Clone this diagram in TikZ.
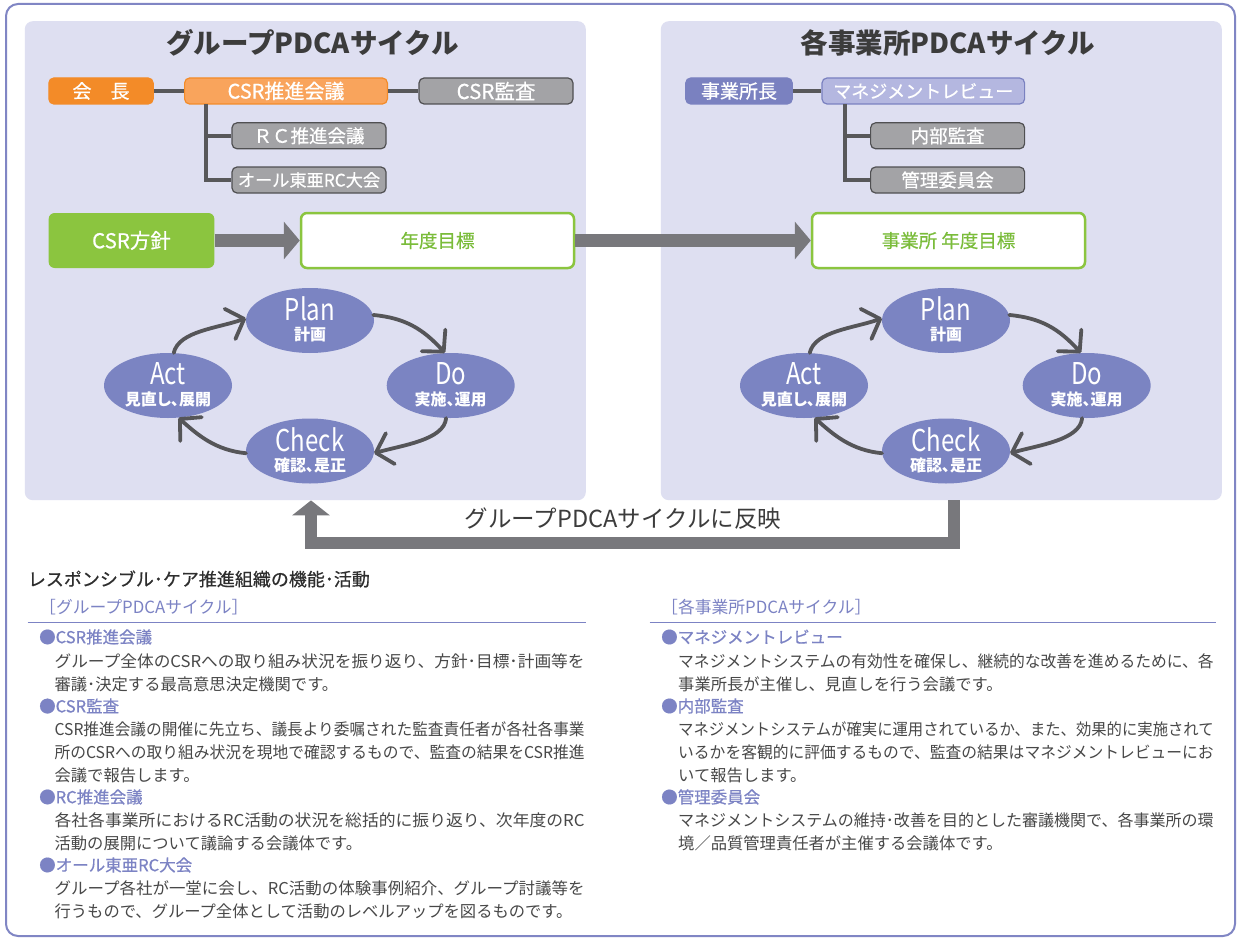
\documentclass[tikz,border=0pt]{standalone}
\usepackage{graphicx}
\usepackage{fontspec}
\setmainfont{Noto Sans CJK JP}
\newfontfamily\medf[FakeBold=0.6]{Noto Sans CJK JP}
\newfontfamily\palf[RawFeature=+palt]{Noto Sans CJK JP}
\usetikzlibrary{shapes.geometric,arrows.meta,calc}
\definecolor{framec}{RGB}{128,134,196}
\definecolor{panelc}{RGB}{222,223,241}
\definecolor{orangeA}{RGB}{243,139,40}
\definecolor{orangeB}{RGB}{249,164,92}
\definecolor{grayfill}{RGB}{163,163,166}
\definecolor{grayborder}{RGB}{80,80,82}
\definecolor{orgc}{RGB}{88,88,90}
\definecolor{greenc}{RGB}{139,197,63}
\definecolor{greent}{RGB}{122,188,58}
\definecolor{arrowc}{RGB}{120,120,124}
\definecolor{ellc}{RGB}{123,132,194}
\definecolor{cycc}{RGB}{85,85,88}
\definecolor{purA}{RGB}{122,129,192}
\definecolor{purB}{RGB}{180,183,224}
\definecolor{titlec}{RGB}{60,60,60}
\definecolor{bodyc}{RGB}{72,72,72}
\definecolor{headc}{RGB}{124,131,196}
\newcommand\pdcanode[5]{%
  \node[ell] (#1) at (#2,#3) {};
  \node[bigt] (#1a) at (#2,#3-11.5) {\scalebox{0.8}[1]{#4}};
  \node[smt] (#1b) at (#2,#3+14) {#5};}
\newcommand\pdcacycle[2]{%
  \pdcanode{#1p}{310+#2}{320.5}{Plan}{計画}
  \pdcanode{#1d}{450.7+#2}{385.5}{Do}{実施、運用}
  \pdcanode{#1a}{168+#2}{385.5}{Act}{見直し、展開}
  \pdcanode{#1c}{310+#2}{451}{Check}{確認、是正}
  \draw[cyc] (#1p.5) .. controls +(32,3) and +(-22,-24) .. (#1d.100);
  \draw[cyc] (#1d.262) .. controls +(-2,22) and +(28,-8) .. (#1c.-2);
  \draw[cyc] (#1c.182) .. controls +(-30,-3) and +(20,18) .. (#1a.-72);
  \draw[cyc] (#1a.80) .. controls +(5,-22) and +(-28,10) .. (#1p.178);}
\newcommand\bodyline[4]{\node[bodyt] (#1) at (#2,#3) {#4};}
\newcommand\fitline[5]{\node[bodyt] (#1) at (#2,#3) {\resizebox{#4}{\height}{#5}};}
\newcommand\headline[4]{\node[headt] (#1) at (#2,#3) {#4};}
\begin{document}
\begin{tikzpicture}[x=1pt,y=-1pt,
  panel/.style={fill=panelc, rounded corners=8pt, inner sep=0, minimum width=561pt, minimum height=479pt, anchor=north west},
  box/.style={rectangle, rounded corners=5pt, inner sep=0, minimum height=26pt, line width=1.2pt, text=white, font=\fontsize{19}{19}\medf},
  graybox/.style={box, fill=grayfill, draw=grayborder, font=\fontsize{18.5}{18.5}\medf},
  goalbox/.style={rectangle, rounded corners=6pt, inner sep=0, minimum height=55pt, line width=2.5pt, draw=greenc, fill=white, text=greent, font=\fontsize{18.5}{18.5}\medf},
  orgline/.style={draw=orgc, line width=4pt},
  bigarrow/.style={draw=arrowc, line width=13pt, -{Triangle[length=16pt,width=37pt]}},
  fbarrow/.style={draw=arrowc, line width=11.5pt, line join=miter, -{Triangle[length=15pt,width=37pt]}},
  ell/.style={ellipse, fill=ellc, minimum width=128pt, minimum height=65pt, inner sep=0},
  bigt/.style={text=white, inner sep=0, font=\fontsize{30}{30}\selectfont},
  smt/.style={text=white, inner sep=0, font=\fontsize{16}{16}\palf\bfseries},
  cyc/.style={draw=cycc, line width=3.8pt, line cap=round, -{Straight Barb[length=15pt,width=32pt,round]}},
  titlet/.style={text=titlec, inner sep=0, font=\fontsize{27.5}{27.5}\selectfont\bfseries},
  bodyt/.style={anchor=west, inner sep=0, text=bodyc, font=\fontsize{16.3}{16.3}\selectfont},
  headt/.style={anchor=west, inner sep=0, text=headc, font=\fontsize{16.5}{16.5}\medf}
]
\useasboundingbox (0,0) rectangle (1239,939);
\fill[white] (0,0) rectangle (1239,939);
\draw[framec, line width=2pt, rounded corners=12pt] (6,4) rectangle (1235,936);
% panels
\node[panel] (lp) at (24.6,21) {};
\node[panel] (rp) at (660.6,21) {};
\node[titlet] (lt) at (312.5,43) {グループPDCAサイクル};
\node[titlet] (rt) at (947.6,43) {各事業所PDCAサイクル};
% left org chart
\node[box, fill=orangeA, draw=orangeA, minimum width=104.3pt] (kaicho) at (101,91) {会　長};
\node[box, fill=orangeB, draw=orangeA, minimum width=202.8pt, font=\fontsize{20}{20}\medf] (csrk) at (286,91) {CSR推進会議};
\node[graybox, minimum width=154pt, font=\fontsize{20.5}{20.5}\medf] (csra) at (496,91) {CSR監査};
\node[graybox, minimum width=154pt] (rc) at (309,135.8) {ＲＣ推進会議};
\node[graybox, minimum width=154pt, font=\fontsize{17.2}{17.2}\medf] (allrc) at (309,180) {オール東亜RC大会};
\draw[orgline] (kaicho) -- (csrk);
\draw[orgline] (csrk) -- (csra);
\coordinate (lv) at (206.4,104);
\draw[orgline] (lv) |- (allrc.west);
\draw[orgline] (lv |- rc.west) -- (rc.west);
% right org chart
\node[box, fill=purA, draw=purA, minimum width=106.5pt] (jigyo) at (739,91) {事業所長};
\node[box, fill=purB, draw=purA, minimum width=202.6pt, font=\fontsize{18}{18}\medf] (mgmt) at (923.3,91) {マネジメントレビュー};
\node[graybox, minimum width=154pt] (naibu) at (947.6,135.8) {内部監査};
\node[graybox, minimum width=154pt] (kanri) at (947.6,180) {管理委員会};
\draw[orgline] (jigyo) -- (mgmt);
\coordinate (rv) at (845,104);
\draw[orgline] (rv) |- (kanri.west);
\draw[orgline] (rv |- naibu.west) -- (naibu.west);
% goals
\node[rectangle, rounded corners=6pt, fill=greenc, inner sep=0, minimum width=165.7pt, minimum height=55pt, text=white, font=\fontsize{20.5}{20.5}\medf] (csrh) at (131.5,240.5) {CSR方針};
\node[goalbox, minimum width=273pt] (nendo) at (437.5,240.5) {年度目標};
\node[goalbox, minimum width=273pt] (jnendo) at (948.5,240.5) {事業所 年度目標};
\draw[bigarrow] (csrh) -- (nendo);
\draw[bigarrow] (nendo) -- (jnendo);
% cycles
\pdcacycle{L}{0}
\pdcacycle{R}{636}
% feedback arrow
\coordinate (fbtop) at (rp.south -| 954,0);
\coordinate (fbend) at (lp.south -| 311,0);
\draw[fbarrow] (fbtop) -- ++(0,42.5) -| (fbend);
\node[inner sep=0, text=titlec, font=\fontsize{23.5}{23.5}\selectfont] (fbt) at (623,519) {グループPDCAサイクルに反映};
% text section
\node[anchor=west, inner sep=0, text=black!82, font=\fontsize{18}{18}\medf] (sec) at (27.7,579) {レスポンシブル･ケア推進組織の機能･活動};
\node[headt, font=\fontsize{16.8}{16.8}\selectfont] (lsub) at (39,607) {［グループPDCAサイクル］};
\node[headt, font=\fontsize{16.8}{16.8}\selectfont] (rsub) at (661,607) {［各事業所PDCAサイクル］};
\draw[headc, line width=1pt] (27.7,622) -- (586,622);
\draw[headc, line width=1pt] (649.5,622) -- (1216,622);
\headline{hl1}{39}{637}{●CSR推進会議}
\fitline{bl1}{54.4}{661}{530pt}{グループ全体のCSRへの取り組み状況を振り返り、方針･目標･計画等を}
\bodyline{bl2}{54.4}{684}{審議･決定する最高意思決定機関です。}
\headline{hl2}{39}{706}{●CSR監査}
\fitline{bl3}{54.4}{729}{530pt}{CSR推進会議の開催に先立ち、議長より委嘱された監査責任者が各社各事業}
\fitline{bl4}{54.4}{752}{530pt}{所のCSRへの取り組み状況を現地で確認するもので、監査の結果をCSR推進}
\bodyline{bl5}{54.4}{775}{会議で報告します。}
\headline{hl3}{39}{797}{●RC推進会議}
\fitline{bl6}{54.4}{820}{530pt}{各社各事業所におけるRC活動の状況を総括的に振り返り、次年度のRC}
\bodyline{bl7}{54.4}{843}{活動の展開について議論する会議体です。}
\headline{hl4}{39}{865}{●オール東亜RC大会}
\fitline{bl8}{54.4}{888}{530pt}{グループ各社が一堂に会し、RC活動の体験事例紹介、グループ討議等を}
\bodyline{bl9}{54.4}{911}{行うもので、グループ全体として活動のレベルアップを図るものです。}
\headline{hr1}{661}{637}{●マネジメントレビュー}
\fitline{br1}{678}{661}{535.5pt}{マネジメントシステムの有効性を確保し、継続的な改善を進めるために、各}
\bodyline{br2}{678}{684}{事業所長が主催し、見直しを行う会議です。}
\headline{hr2}{661}{706}{●内部監査}
\fitline{br3}{678}{729}{535.5pt}{マネジメントシステムが確実に運用されているか、また、効果的に実施されて}
\fitline{br4}{678}{752}{535.5pt}{いるかを客観的に評価するもので、監査の結果はマネジメントレビューにお}
\bodyline{br5}{678}{775}{いて報告します。}
\headline{hr3}{661}{797}{●管理委員会}
\fitline{br6}{678}{820}{535.5pt}{マネジメントシステムの維持･改善を目的とした審議機関で、各事業所の環}
\bodyline{br7}{678}{843}{境／品質管理責任者が主催する会議体です。}
\end{tikzpicture}
\end{document}
